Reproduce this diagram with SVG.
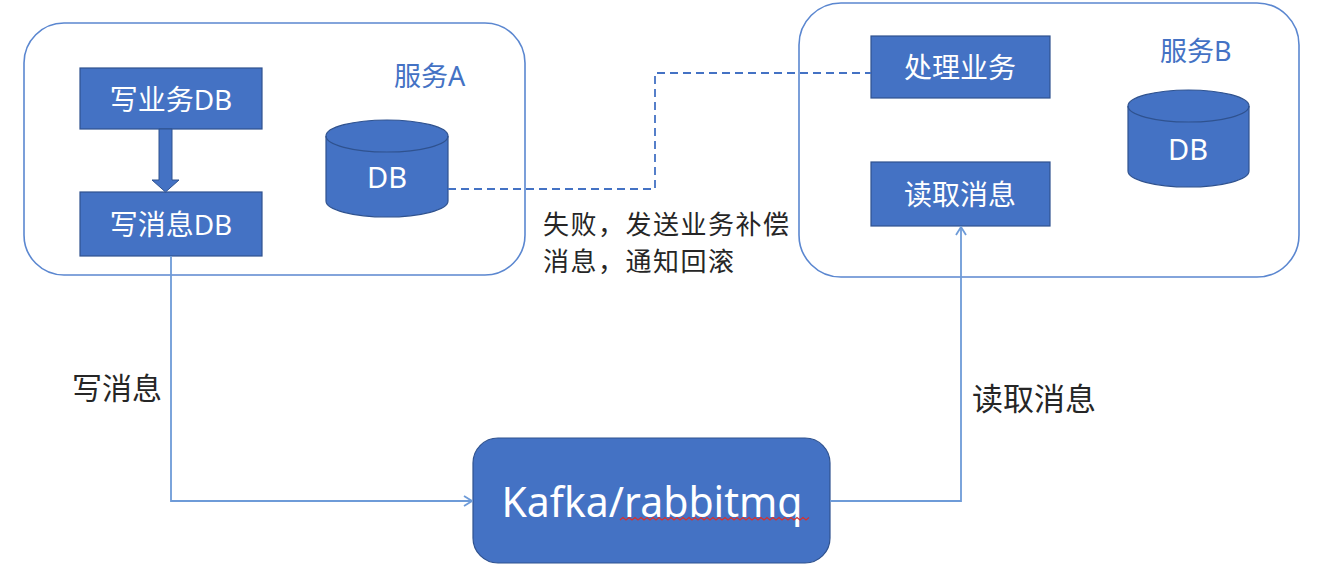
<svg xmlns="http://www.w3.org/2000/svg" width="1330" height="574" viewBox="0 0 1330 574">
<style>
.container{fill:none;stroke:#5B87D0;stroke-width:1.6}
.box{fill:#4472C4;stroke:#2F528F;stroke-width:1.2}
.wt{fill:#FFFFFF;font-family:"Noto Sans","Noto Sans CJK SC",sans-serif;text-anchor:middle}
.svc{fill:#4472C4;font-family:"Noto Sans","Noto Sans CJK SC",sans-serif;font-size:27px}
.lbl{fill:#262626;font-family:"Noto Sans CJK SC",sans-serif}
.conn{fill:none;stroke:#6E9BD8;stroke-width:1.8}
.dash{fill:none;stroke:#4472C4;stroke-width:1.8;stroke-dasharray:8 5}
</style>
<defs>
<marker id="open" viewBox="0 0 12 12" refX="11" refY="6" markerWidth="12" markerHeight="12" markerUnits="userSpaceOnUse" orient="auto">
<polyline points="3,1 11,6 3,11" fill="none" stroke="#6E9BD8" stroke-width="1.8"/>
</marker>
</defs>
<rect width="1330" height="574" fill="#FFFFFF"/>

<g id="serviceA">
<rect class="container" x="24" y="23" width="501" height="252" rx="40" ry="40"/>
<text class="svc" x="394" y="86">服务A</text>
</g>
<g id="serviceB">
<rect class="container" x="799" y="3" width="500" height="274" rx="42" ry="42"/>
<text class="svc" x="1160" y="61">服务B</text>
</g>

<g id="writeBizDB">
<rect class="box" x="80" y="68" width="182" height="61"/>
<text class="wt" x="171" y="110" font-size="28">写业务DB</text>
</g>
<g id="writeMsgDB">
<rect class="box" x="80" y="192" width="182" height="64"/>
<text class="wt" x="171" y="235" font-size="28">写消息DB</text>
</g>
<g id="dbA">
<path class="box" d="M326,136 L326,201 A61,16 0 0 0 448,201 L448,136 A61,16 0 0 0 326,136 Z"/>
<path fill="none" stroke="#2F528F" stroke-width="1.2" d="M326,136 A61,16 0 0 0 448,136"/>
<text class="wt" x="387" y="188" font-size="29">DB</text>
</g>
<g id="process">
<rect class="box" x="871" y="36" width="179" height="62"/>
<text class="wt" x="960" y="78" font-size="28">处理业务</text>
</g>
<g id="readMsg">
<rect class="box" x="871" y="162" width="179" height="64"/>
<text class="wt" x="960" y="205" font-size="28">读取消息</text>
</g>
<g id="dbB">
<path class="box" d="M1128,106 L1128,171 A60.5,16 0 0 0 1249,171 L1249,106 A60.5,16 0 0 0 1128,106 Z"/>
<path fill="none" stroke="#2F528F" stroke-width="1.2" d="M1128,106 A60.5,16 0 0 0 1249,106"/>
<text class="wt" x="1188" y="160" font-size="29">DB</text>
</g>
<g id="mq">
<rect class="box" x="473" y="438" width="357" height="125" rx="25" ry="25"/>
<text class="wt" x="652" y="517" font-size="41">Kafka/rabbitmq</text>
<path fill="none" stroke="#D9302C" stroke-width="1.3" d="M620,520 l3,-2.5 l3,2.5 l3,-2.5 l3,2.5 l3,-2.5 l3,2.5 l3,-2.5 l3,2.5 l3,-2.5 l3,2.5 l3,-2.5 l3,2.5 l3,-2.5 l3,2.5 l3,-2.5 l3,2.5 l3,-2.5 l3,2.5 l3,-2.5 l3,2.5 l3,-2.5 l3,2.5 l3,-2.5 l3,2.5 l3,-2.5 l3,2.5 l3,-2.5 l3,2.5 l3,-2.5 l3,2.5 l3,-2.5 l3,2.5 l3,-2.5 l3,2.5 l3,-2.5 l3,2.5 l3,-2.5 l3,2.5 l3,-2.5 l3,2.5 l3,-2.5 l3,2.5 l3,-2.5 l3,2.5 l3,-2.5 l3,2.5 l3,-2.5 l3,2.5 l3,-2.5 l3,2.5 l3,-2.5 l3,2.5 l3,-2.5 l3,2.5 l3,-2.5 l3,2.5 l3,-2.5 l3,2.5 l3,-2.5 l3,2.5 l3,-2.5 l3,2.5 l3,-2.5"/>
</g>

<g id="connectors">
<path fill="#4472C4" stroke="#2F528F" stroke-width="1" d="M159,129 L172,129 L172,180 L179,180 L165.5,192 L152,180 L159,180 Z"/>
<path class="dash" d="M448,189 L655,189 L655,73 L871,73"/>
<path class="conn" d="M171,256 L171,501 L472,501" marker-end="url(#open)"/>
<path class="conn" d="M830,501 L961,501 L961,227" marker-end="url(#open)"/>
</g>

<g id="labels">
<text class="lbl" x="543" y="234" font-size="26" letter-spacing="1.5">失败，发送业务补偿</text>
<text class="lbl" x="543" y="271" font-size="26" letter-spacing="1.5">消息，通知回滚</text>
<text class="lbl" x="72" y="399" font-size="30">写消息</text>
<text class="lbl" x="972" y="410" font-size="31">读取消息</text>
</g>
</svg>
